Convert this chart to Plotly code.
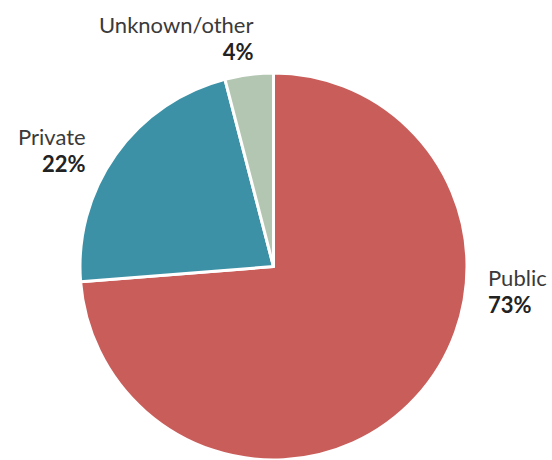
import plotly.graph_objects as go

labels = ["Public", "Private", "Unknown/other"]
values = [73, 22, 4]
colors = ["#C95D5A", "#3D91A6", "#B3C6B1"]

W, H = 552, 460

fig = go.Figure(go.Pie(
    labels=labels,
    values=values,
    sort=False,
    direction="clockwise",
    rotation=0,
    marker=dict(colors=colors, line=dict(color="white", width=3)),
    textinfo="none",
    hoverinfo="label+percent",
    domain=dict(x=[(273.5 - 194.5) / W, (273.5 + 194.5) / W], y=[0, 1 - 73 / H]),
    showlegend=False,
))

# label placement in pixels: (x, middle y of the two-line label, anchor)
label_pos = {
    "Public": (487, 291, "left"),
    "Private": (87, 150, "right"),
    "Unknown/other": (254, 37.5, "right"),
}
for lab, val in zip(labels, values):
    px, py, anchor = label_pos[lab]
    fig.add_annotation(
        x=px / W, y=1 - py / H, xref="paper", yref="paper",
        xanchor=anchor, yanchor="middle", align=anchor, borderpad=0,
        text=(f"<span style='font-size:22px'>{lab}</span><br>"
              f"<b style='font-size:22px;color:#222222'>{val}%</b>"),
        showarrow=False,
        font=dict(family="Lato", size=20.5, color="#3a3a3a"),
    )

fig.update_layout(
    width=W, height=H,
    margin=dict(l=0, r=0, t=0, b=0),
    paper_bgcolor="white",
    plot_bgcolor="white",
)

fig.write_html(
    "out.html",
    config={"displayModeBar": False},
    post_script="document.body.style.margin='0';document.body.style.overflow='hidden';",
)
